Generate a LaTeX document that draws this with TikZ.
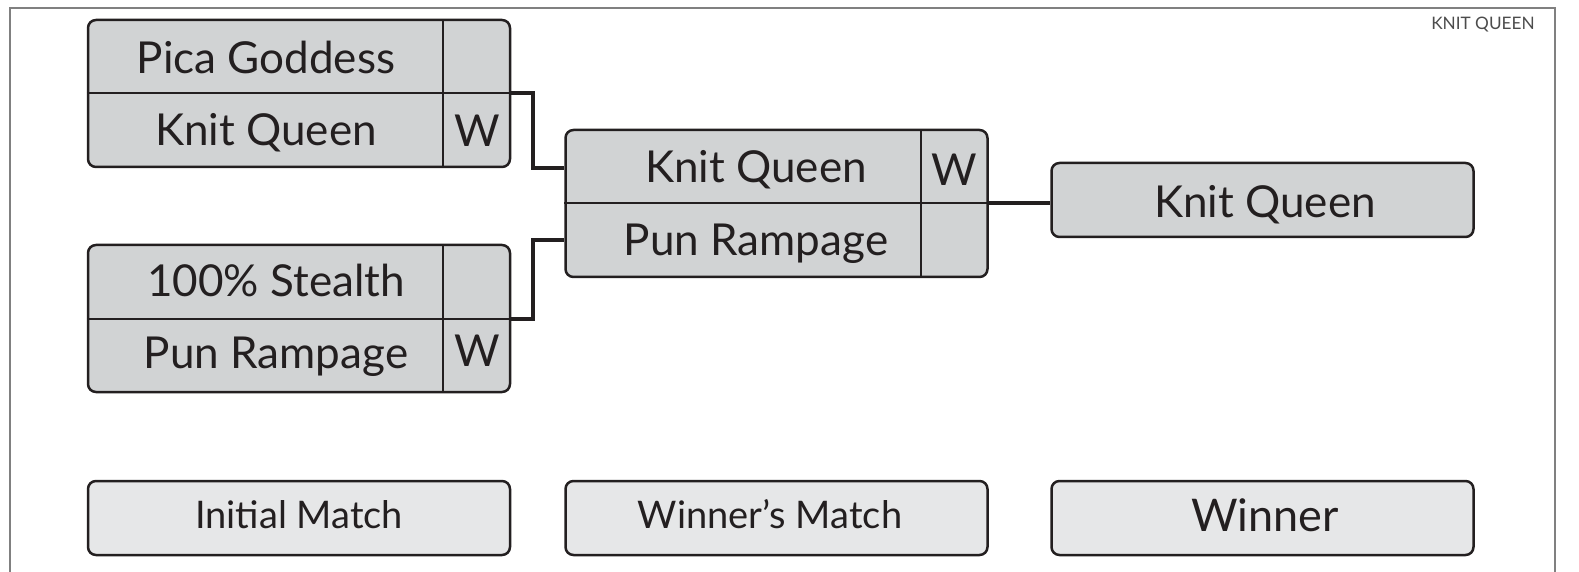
\documentclass[tikz,border=0pt]{standalone}
\usepackage{fontspec}
\setmainfont{Lato}
\definecolor{ink}{HTML}{231F20}
\definecolor{cellgray}{HTML}{D1D3D4}
\definecolor{labgray}{HTML}{E6E7E8}
\definecolor{framegray}{HTML}{808080}
\begin{document}%
\begin{tikzpicture}[x=0.5pt,y=-0.5pt,
  matchbox/.style={draw=ink, line width=1.25pt, fill=cellgray, rounded corners=4pt,
    inner sep=0pt, minimum width=211pt, minimum height=73.5pt},
  winbox/.style={draw=ink, line width=1.25pt, fill=cellgray, rounded corners=4pt,
    inner sep=0pt, minimum width=211pt, minimum height=37pt},
  labbox/.style={draw=ink, line width=1.25pt, fill=labgray, rounded corners=4pt,
    inner sep=0pt, minimum width=211pt, minimum height=37pt},
  divline/.style={draw=ink, line width=1pt},
  conn/.style={draw=ink, line width=2pt},
  lbl/.style={anchor=base, inner sep=0pt, text=ink, font=\fontsize{22}{26}\selectfont},
  sublbl/.style={anchor=base, inner sep=0pt, text=ink, font=\fontsize{19}{23}\selectfont},
  bigl/.style={anchor=base, inner sep=0pt, text=ink, font=\fontsize{22.5}{27}\selectfont}
]
\useasboundingbox (0,0) rectangle (1579,572);
\clip (0,0) rectangle (1579,572);
% frame
\draw[framegray, line width=0.6pt] (10,8) rectangle (1555,620);
\node[anchor=base east, inner sep=0pt, text=black!70, font=\fontsize{8.6}{10}\selectfont] (tag) at (1535,30) {KNIT QUEEN};

% match 1
\node[matchbox] (m1) at (299,93.5) {};
\draw[divline] (m1.west) -- (m1.east);
\draw[divline] (443,20) -- (443,167);
\node[lbl] (m1a) at (266,74) {Pica Goddess};
\node[lbl] (m1b) at (266,146) {Knit Queen};
\node[lbl] (m1w) at (477,147) {W};

% match 2
\node[matchbox] (m2) at (299,318.5) {};
\draw[divline] (m2.west) -- (m2.east);
\draw[divline] (443,245) -- (443,392);
\node[lbl] (m2a) at (276,296) {100\% Stealth};
\node[lbl] (m2b) at (276,368) {Pun Rampage};
\node[lbl] (m2w) at (477,366) {W};

% match 3
\node[matchbox] (m3) at (776.5,203.5) {};
\draw[divline] (m3.west) -- (m3.east);
\draw[divline] (921,130) -- (921,277);
\node[lbl] (m3a) at (756,183) {Knit Queen};
\node[lbl] (m3b) at (756,256) {Pun Rampage};
\node[lbl] (m3w) at (954,186) {W};

% winner
\node[winbox] (m4) at (1262.5,200) {};
\node[lbl] (m4a) at (1265,218) {Knit Queen};

% connectors
\coordinate (j1) at (533,168);
\coordinate (j2) at (533,240);
\draw[conn] (m1.east) -| (j1) -- (j1 -| m3.west);
\draw[conn] (m2.east) -| (j2) -- (j2 -| m3.west);
\draw[conn] (m3.east) -- (m3.east -| m4.west);

% round labels
\node[labbox] (r1) at (299,518) {};
\node[sublbl] (r1t) at (299,528) {Initial Match};
\node[labbox] (r2) at (776.5,518) {};
\node[sublbl] (r2t) at (770,528) {Winner’s Match};
\node[labbox] (r3) at (1262.5,518) {};
\node[bigl] (r3t) at (1265,531) {Winner};
\end{tikzpicture}%
\end{document}
